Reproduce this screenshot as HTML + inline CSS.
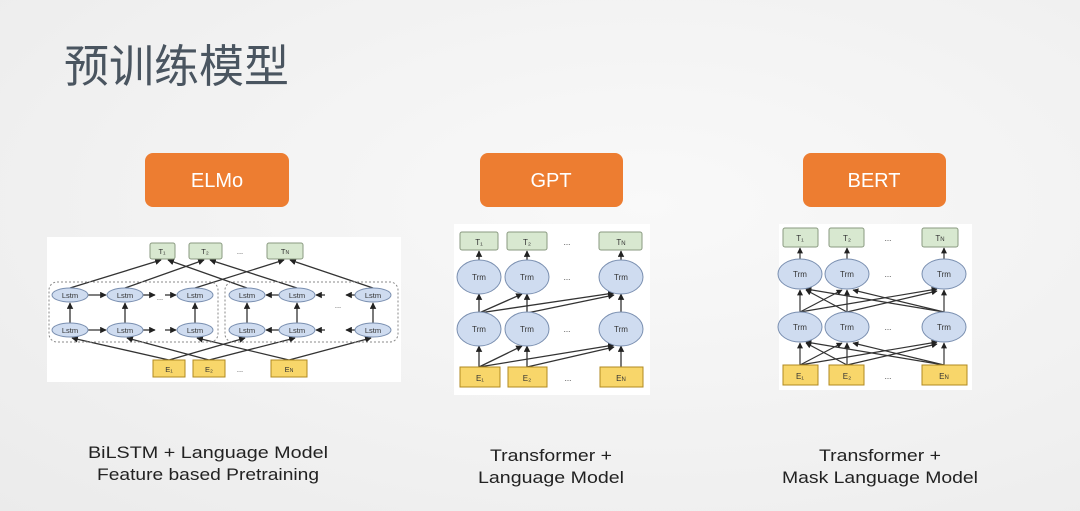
<!DOCTYPE html>
<html><head><meta charset="utf-8">
<style>
html,body{margin:0;padding:0;}
body{width:1080px;height:511px;overflow:hidden;background:radial-gradient(ellipse at 60% 40%,#f9f9f9 0%,#f1f1f1 60%,#ebebeb 100%);font-family:"Liberation Sans","Noto Sans CJK SC",sans-serif;}
svg{position:absolute;left:0;top:0;}
</style></head><body>
<svg width="1080" height="511" viewBox="0 0 1080 511" xmlns="http://www.w3.org/2000/svg">
<defs>
<marker id="a" viewBox="0 0 10 10" refX="9" refY="5" markerWidth="5" markerHeight="5" orient="auto"><path d="M0,0L10,5L0,10z" fill="#222"/></marker>
</defs>
<text x="64" y="82" font-family="Noto Sans CJK SC,sans-serif" font-size="45" fill="#4a5560">预训练模型</text>

<g font-family="Liberation Sans,sans-serif" font-size="20" fill="#fff" text-anchor="middle">
<rect x="145" y="153" width="144" height="54" rx="8" fill="#ed7d31"/><text x="217" y="187">ELMo</text>
<rect x="480" y="153" width="143" height="54" rx="8" fill="#ed7d31"/><text x="551" y="187">GPT</text>
<rect x="803" y="153" width="143" height="54" rx="8" fill="#ed7d31"/><text x="874" y="187">BERT</text>
</g>

<!-- ELMo -->
<rect x="47" y="237" width="354" height="145" fill="#fff"/>
<g stroke="#333" stroke-width="1.3" marker-end="url(#a)">
<line x1="70" y1="288" x2="161" y2="260"/><line x1="125" y1="288" x2="204" y2="260"/><line x1="195" y1="288" x2="284" y2="260"/>
<line x1="247" y1="288" x2="168" y2="260"/><line x1="297" y1="288" x2="210" y2="260"/><line x1="373" y1="288" x2="290" y2="260"/>
<line x1="169" y1="360" x2="72" y2="338"/><line x1="169" y1="360" x2="245" y2="338"/>
<line x1="209" y1="360" x2="127" y2="338"/><line x1="209" y1="360" x2="295" y2="338"/>
<line x1="289" y1="360" x2="197" y2="338"/><line x1="289" y1="360" x2="371" y2="338"/>
<line x1="70" y1="323" x2="70" y2="303"/><line x1="125" y1="323" x2="125" y2="303"/><line x1="195" y1="323" x2="195" y2="303"/>
<line x1="247" y1="323" x2="247" y2="303"/><line x1="297" y1="323" x2="297" y2="303"/><line x1="373" y1="323" x2="373" y2="303"/>
<line x1="88" y1="295" x2="106" y2="295"/><line x1="143" y1="295" x2="155" y2="295"/><line x1="165" y1="295" x2="176" y2="295"/>
<line x1="88" y1="330" x2="106" y2="330"/><line x1="143" y1="330" x2="155" y2="330"/><line x1="165" y1="330" x2="176" y2="330"/>
<line x1="279" y1="295" x2="266" y2="295"/><line x1="325" y1="295" x2="316" y2="295"/><line x1="355" y1="295" x2="346" y2="295"/>
<line x1="279" y1="330" x2="266" y2="330"/><line x1="325" y1="330" x2="316" y2="330"/><line x1="355" y1="330" x2="346" y2="330"/>
</g>
<rect x="49" y="282" width="169" height="60" rx="8" fill="none" stroke="#888" stroke-dasharray="2,2"/>
<rect x="225" y="282" width="173" height="60" rx="8" fill="none" stroke="#888" stroke-dasharray="2,2"/>
<g fill="#cfdcf0" stroke="#7a8fb0" stroke-width="1">
<ellipse cx="70" cy="295" rx="18" ry="7"/><ellipse cx="125" cy="295" rx="18" ry="7"/><ellipse cx="195" cy="295" rx="18" ry="7"/>
<ellipse cx="247" cy="295" rx="18" ry="7"/><ellipse cx="297" cy="295" rx="18" ry="7"/><ellipse cx="373" cy="295" rx="18" ry="7"/>
<ellipse cx="70" cy="330" rx="18" ry="7"/><ellipse cx="125" cy="330" rx="18" ry="7"/><ellipse cx="195" cy="330" rx="18" ry="7"/>
<ellipse cx="247" cy="330" rx="18" ry="7"/><ellipse cx="297" cy="330" rx="18" ry="7"/><ellipse cx="373" cy="330" rx="18" ry="7"/>
</g>
<g fill="#d8e8d0" stroke="#8a9a80"><rect x="150" y="243" width="25" height="16" rx="2"/><rect x="189" y="243" width="33" height="16" rx="2"/><rect x="267" y="243" width="36" height="16" rx="2"/></g>
<g fill="#f8d66a" stroke="#b08a20"><rect x="153" y="360" width="32" height="17"/><rect x="193" y="360" width="32" height="17"/><rect x="271" y="360" width="36" height="17"/></g>
<g font-size="7.5" fill="#333" text-anchor="middle">
<text x="70" y="298">Lstm</text><text x="125" y="298">Lstm</text><text x="195" y="298">Lstm</text><text x="247" y="298">Lstm</text><text x="297" y="298">Lstm</text><text x="373" y="298">Lstm</text>
<text x="70" y="333">Lstm</text><text x="125" y="333">Lstm</text><text x="195" y="333">Lstm</text><text x="247" y="333">Lstm</text><text x="297" y="333">Lstm</text><text x="373" y="333">Lstm</text>
<text x="162" y="254">T₁</text><text x="205" y="254">T₂</text><text x="285" y="254">T<tspan font-size="5">N</tspan></text>
<text x="169" y="372">E₁</text><text x="209" y="372">E₂</text><text x="289" y="372">E<tspan font-size="5">N</tspan></text>
<text x="240" y="254">...</text><text x="240" y="372">...</text><text x="160" y="300">...</text><text x="338" y="308">...</text>
</g>

<!-- GPT -->
<rect x="454" y="224" width="196" height="171" fill="#fff"/>
<g stroke="#333" stroke-width="1.3" marker-end="url(#a)">
<line x1="479" y1="262" x2="479" y2="251"/><line x1="527" y1="262" x2="527" y2="251"/><line x1="621" y1="262" x2="621" y2="251"/>
<line x1="479" y1="313" x2="479" y2="294"/><line x1="527" y1="313" x2="527" y2="294"/><line x1="621" y1="313" x2="621" y2="294"/>
<line x1="479" y1="313" x2="522" y2="294"/><line x1="479" y1="313" x2="614" y2="293"/><line x1="527" y1="313" x2="614" y2="295"/>
<line x1="479" y1="367" x2="479" y2="346"/><line x1="527" y1="367" x2="527" y2="346"/><line x1="621" y1="367" x2="621" y2="346"/>
<line x1="479" y1="367" x2="522" y2="346"/><line x1="479" y1="367" x2="614" y2="345"/><line x1="527" y1="367" x2="614" y2="347"/>
</g>
<g fill="#cfdcf0" stroke="#7a8fb0"><ellipse cx="479" cy="277" rx="22" ry="17"/><ellipse cx="527" cy="277" rx="22" ry="17"/><ellipse cx="621" cy="277" rx="22" ry="17"/>
<ellipse cx="479" cy="329" rx="22" ry="17"/><ellipse cx="527" cy="329" rx="22" ry="17"/><ellipse cx="621" cy="329" rx="22" ry="17"/></g>
<g fill="#d8e8d0" stroke="#8a9a80"><rect x="460" y="232" width="38" height="18" rx="2"/><rect x="507" y="232" width="40" height="18" rx="2"/><rect x="599" y="232" width="43" height="18" rx="2"/></g>
<g fill="#f8d66a" stroke="#b08a20"><rect x="460" y="367" width="40" height="20"/><rect x="508" y="367" width="39" height="20"/><rect x="600" y="367" width="43" height="20"/></g>
<g font-size="8" fill="#333" text-anchor="middle">
<text x="479" y="280">Trm</text><text x="527" y="280">Trm</text><text x="621" y="280">Trm</text><text x="479" y="332">Trm</text><text x="527" y="332">Trm</text><text x="621" y="332">Trm</text>
<text x="479" y="245">T₁</text><text x="527" y="245">T₂</text><text x="621" y="245">T<tspan font-size="6">N</tspan></text>
<text x="480" y="381">E₁</text><text x="527" y="381">E₂</text><text x="621" y="381">E<tspan font-size="6">N</tspan></text>
<text x="567" y="245">...</text><text x="567" y="280">...</text><text x="567" y="332">...</text><text x="568" y="381">...</text>
</g>

<!-- BERT -->
<rect x="779" y="224" width="193" height="166" fill="#fff"/>
<g stroke="#333" stroke-width="1.2" marker-end="url(#a)">
<line x1="800" y1="259" x2="800" y2="248"/><line x1="847" y1="259" x2="847" y2="248"/><line x1="944" y1="259" x2="944" y2="248"/>
<line x1="800" y1="312" x2="800" y2="290"/><line x1="847" y1="312" x2="847" y2="290"/><line x1="944" y1="312" x2="944" y2="290"/>
<line x1="800" y1="312" x2="842" y2="290"/><line x1="800" y1="312" x2="937" y2="289"/><line x1="847" y1="312" x2="806" y2="290"/><line x1="847" y1="312" x2="937" y2="291"/><line x1="944" y1="312" x2="806" y2="289"/><line x1="944" y1="312" x2="853" y2="290"/>
<line x1="800" y1="365" x2="800" y2="343"/><line x1="847" y1="365" x2="847" y2="343"/><line x1="944" y1="365" x2="944" y2="343"/>
<line x1="800" y1="365" x2="842" y2="343"/><line x1="800" y1="365" x2="937" y2="342"/><line x1="847" y1="365" x2="806" y2="343"/><line x1="847" y1="365" x2="937" y2="344"/><line x1="944" y1="365" x2="806" y2="342"/><line x1="944" y1="365" x2="853" y2="343"/>
</g>
<g fill="#cfdcf0" stroke="#7a8fb0"><ellipse cx="800" cy="274" rx="22" ry="15"/><ellipse cx="847" cy="274" rx="22" ry="15"/><ellipse cx="944" cy="274" rx="22" ry="15"/>
<ellipse cx="800" cy="327" rx="22" ry="15"/><ellipse cx="847" cy="327" rx="22" ry="15"/><ellipse cx="944" cy="327" rx="22" ry="15"/></g>
<g fill="#d8e8d0" stroke="#8a9a80"><rect x="783" y="228" width="35" height="19" rx="2"/><rect x="829" y="228" width="35" height="19" rx="2"/><rect x="922" y="228" width="36" height="19" rx="2"/></g>
<g fill="#f8d66a" stroke="#b08a20"><rect x="783" y="365" width="35" height="20"/><rect x="829" y="365" width="35" height="20"/><rect x="922" y="365" width="45" height="20"/></g>
<g font-size="8" fill="#333" text-anchor="middle">
<text x="800" y="277">Trm</text><text x="847" y="277">Trm</text><text x="944" y="277">Trm</text><text x="800" y="330">Trm</text><text x="847" y="330">Trm</text><text x="944" y="330">Trm</text>
<text x="800" y="241">T₁</text><text x="847" y="241">T₂</text><text x="940" y="241">T<tspan font-size="6">N</tspan></text>
<text x="800" y="379">E₁</text><text x="847" y="379">E₂</text><text x="944" y="379">E<tspan font-size="6">N</tspan></text>
<text x="888" y="241">...</text><text x="888" y="277">...</text><text x="888" y="330">...</text><text x="888" y="379">...</text>
</g>

<g font-family="Liberation Sans,sans-serif" font-size="17" fill="#222" text-anchor="middle">
<text x="208" y="458" textLength="240" lengthAdjust="spacingAndGlyphs">BiLSTM + Language  Model</text>
<text x="208" y="480" textLength="222" lengthAdjust="spacingAndGlyphs">Feature based Pretraining</text>
<text x="551" y="461" textLength="122" lengthAdjust="spacingAndGlyphs">Transformer +</text>
<text x="551" y="483" textLength="146" lengthAdjust="spacingAndGlyphs">Language Model</text>
<text x="880" y="461" textLength="122" lengthAdjust="spacingAndGlyphs">Transformer +</text>
<text x="880" y="483" textLength="196" lengthAdjust="spacingAndGlyphs">Mask Language Model</text>
</g>
</svg>
</body></html>
